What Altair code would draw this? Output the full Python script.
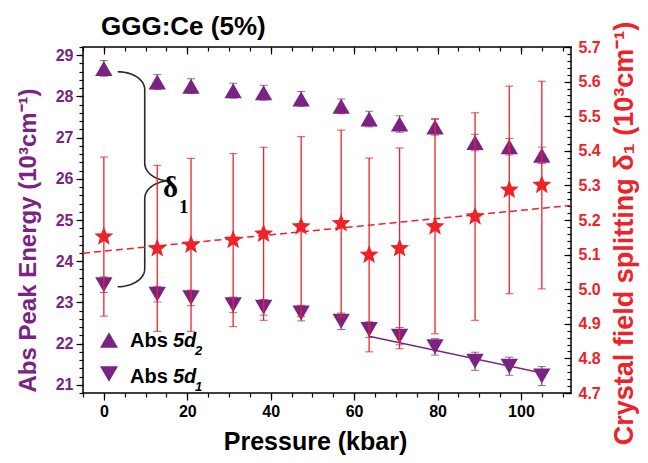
import math
import numpy as np
import pandas as pd
import altair as alt

# ---------------- data ----------------
pressure = [0, 12.8, 20.9, 31.0, 38.3, 47.3, 56.9, 63.6, 70.9, 79.4, 89.0, 97.2, 105.0]
abs_5d2 = [28.68, 28.35, 28.25, 28.14, 28.09, 27.94, 27.76, 27.45, 27.33, 27.26, 26.88, 26.78, 26.57]
abs_5d2_err = [0.19, 0.18, 0.18, 0.18, 0.18, 0.18, 0.18, 0.19, 0.2, 0.2, 0.2, 0.2, 0.2]
abs_5d1 = [23.43, 23.20, 23.11, 22.94, 22.88, 22.74, 22.54, 22.34, 22.18, 21.92, 21.57, 21.45, 21.21]
abs_5d1_err = [0.19, 0.19, 0.19, 0.19, 0.19, 0.19, 0.2, 0.19, 0.21, 0.2, 0.22, 0.22, 0.23]
splitting = [5.152, 5.118, 5.128, 5.142, 5.160, 5.181, 5.190, 5.099, 5.118, 5.181, 5.210, 5.287, 5.301]
splitting_err = [0.23, 0.24, 0.25, 0.25, 0.25, 0.26, 0.27, 0.28, 0.29, 0.31, 0.30, 0.30, 0.30]

# linear fits shown in the figure
split_fit_intercept = 5.110
split_fit_slope = 0.00118
d1_fit_intercept = 23.55
d1_fit_slope = -0.02155
d1_fit_range = [63.6, 105.0]

# brace annotation (data units of the left axis)
brace_x_end, brace_x_mid, brace_x_tip = 3.3, 9.8, 15.8
brace_y_top, brace_y_tip, brace_y_bot = 28.6, 25.95, 23.38
brace_ry = 0.43

# ---------------- style ----------------
PURPLE = "#7B2382"
RED = "#EE2229"
FONT = "Liberation Sans"
X_DOM = [-5, 112]
YL_DOM = [20.8, 29.2]
YR_DOM = [4.7, 5.7]

df = pd.DataFrame({
    "p": pressure,
    "d2": abs_5d2, "d2lo": np.array(abs_5d2) - np.array(abs_5d2_err), "d2hi": np.array(abs_5d2) + np.array(abs_5d2_err),
    "d1": abs_5d1, "d1lo": np.array(abs_5d1) - np.array(abs_5d1_err), "d1hi": np.array(abs_5d1) + np.array(abs_5d1_err),
    "s": splitting, "slo": np.array(splitting) - np.array(splitting_err), "shi": np.array(splitting) + np.array(splitting_err),
})

fit_s = pd.DataFrame({"fx": X_DOM})
fit_s["fy"] = split_fit_intercept + split_fit_slope * fit_s["fx"]
fit_d1 = pd.DataFrame({"fx": d1_fit_range})
fit_d1["fy"] = d1_fit_intercept + d1_fit_slope * fit_d1["fx"]


def brace_points():
    pts = []
    rx1 = brace_x_mid - brace_x_end
    rx2 = brace_x_tip - brace_x_mid
    ry = brace_ry
    ts = np.linspace(0, np.pi / 2, 14)
    for t in ts:
        pts.append((brace_x_end + rx1 * np.sin(t), brace_y_top - ry + ry * np.cos(t)))
    for t in ts:
        pts.append((brace_x_mid + rx2 - rx2 * np.cos(t), brace_y_tip + ry - ry * np.sin(t)))
    for t in ts:
        pts.append((brace_x_mid + rx2 - rx2 * np.sin(t), brace_y_tip - ry + ry * np.cos(t)))
    for t in ts:
        pts.append((brace_x_end + rx1 * np.cos(t), brace_y_bot + ry - ry * np.sin(t)))
    return pd.DataFrame({"bx": [p[0] for p in pts], "by": [p[1] for p in pts], "i": range(len(pts))})


brace_df = brace_points()


def star_path(inner=0.43):
    pts = []
    for k in range(10):
        a = math.radians(-90 + 36 * k)
        r = 1.0 if k % 2 == 0 else inner
        pts.append(f"{r * math.cos(a):.4f},{r * math.sin(a):.4f}")
    return "M" + "L".join(pts) + "Z"


STAR = star_path()

xs = alt.Scale(domain=X_DOM, nice=False, zero=False)
yls = alt.Scale(domain=YL_DOM, nice=False, zero=False)
yrs = alt.Scale(domain=YR_DOM, nice=False, zero=False)


def ax(**kw):
    base = dict(grid=False, domain=False, tickColor="black", tickWidth=1.2,
                labelFont=FONT, labelFontWeight="bold", labelFontSize=16,
                titleFont=FONT, titleFontWeight="bold", labelOverlap=False)
    base.update(kw)
    return alt.Axis(**base)


major_x = [0, 20, 40, 60, 80, 100]
minor_x = list(range(-5, 115, 5))
major_yl = list(range(21, 30))
minor_yl = [round(v, 2) for v in np.arange(20.8, 29.21, 0.2)]
major_yr = [round(4.7 + 0.1 * i, 1) for i in range(11)]
minor_yr = [round(v, 2) for v in np.arange(4.70, 5.701, 0.02)]

# ---------------- layer A : left axis (absorption energies) ----------------
x_bottom = ax(orient="bottom", values=major_x, tickSize=7, labelPadding=3, labelColor="black",
              title="Pressure (kbar)", titleFontSize=25, titleColor="black",
              titleX=232, titleY=56, titleBaseline="alphabetic")
y_left = ax(orient="left", values=major_yl, tickSize=7, labelPadding=3, labelColor=PURPLE,
            title="Abs Peak Energy (10³cm⁻¹)", titleFontSize=24, titleColor=PURPLE,
            titleAngle=270, titleX=-48, titleY=193, titleBaseline="alphabetic")


def XA(f):
    return alt.X(f"{f}:Q", scale=xs, axis=x_bottom)


def YA(f):
    return alt.Y(f"{f}:Q", scale=yls, axis=y_left)


baseA = alt.Chart(df)
errA2 = baseA.mark_rule(color=PURPLE, strokeWidth=1).encode(x=XA("p"), y=YA("d2lo"), y2="d2hi:Q")
errA1 = baseA.mark_rule(color=PURPLE, strokeWidth=1).encode(x=XA("p"), y=YA("d1lo"), y2="d1hi:Q")
caps = [baseA.mark_tick(color=PURPLE, orient="horizontal", size=8, thickness=1).encode(x=XA("p"), y=YA(f))
        for f in ["d2lo", "d2hi", "d1lo", "d1hi"]]
tri_up = baseA.mark_point(shape="triangle-up", filled=True, size=300, color=PURPLE, opacity=1).encode(
    x=XA("p"), y=YA("d2"))
tri_dn = baseA.mark_point(shape="triangle-down", filled=True, size=300, color=PURPLE, opacity=1).encode(
    x=XA("p"), y=YA("d1"))
fitA = alt.Chart(fit_d1).mark_line(color=PURPLE, strokeWidth=1.5).encode(x=XA("fx"), y=YA("fy"))
braceA = alt.Chart(brace_df).mark_line(color="#2a2a2a", strokeWidth=1.6).encode(
    x=XA("bx"), y=YA("by"), order="i:Q")

one = pd.DataFrame({"k": [0]})


def txt(text, x, y, size, style="normal", weight="bold", color="black", font=FONT):
    return alt.Chart(one).mark_text(text=text, font=font, fontSize=size, fontStyle=style,
                                    fontWeight=weight, color=color, align="left",
                                    baseline="alphabetic").encode(x=alt.value(x), y=alt.value(y))


def sym(shape, x, y):
    return alt.Chart(one).mark_point(shape=shape, filled=True, size=324, color=PURPLE, opacity=1).encode(
        x=alt.value(x), y=alt.value(y))


legend = [
    sym("triangle-up", 26, 293), txt("Abs", 47, 300, 20), txt("5d", 90, 300, 20, "italic"),
    txt("2", 112, 308, 13, "italic"),
    sym("triangle-down", 26, 327), txt("Abs", 47, 336, 20), txt("5d", 90, 336, 20, "italic"),
    txt("1", 112, 344, 13, "italic"),
]
delta = [txt("δ", 80, 150, 29, font="Liberation Serif"), txt("1", 96, 166, 19, font="Liberation Serif")]
title = [txt("GGG:Ce (5%)", 18, -12, 26)]

layerA = alt.layer(errA2, errA1, *caps, tri_up, tri_dn, fitA, braceA, *legend, *delta, *title)

# ---------------- layer B : right axis (crystal field splitting) ----------------
x_top = ax(orient="top", values=major_x, tickSize=7, offset=-7, labels=False, title=None)
y_right = ax(orient="right", values=major_yr, format=".1f", tickSize=7, offset=-7, labelPadding=7,
             labelColor=RED, title="Crystal field splitting δ₁ (10³cm⁻¹)", titleFontSize=27,
             titleColor=RED, titleAngle=270, titleX=68, titleY=186, titleBaseline="alphabetic")


def XB(f):
    return alt.X(f"{f}:Q", scale=xs, axis=x_top)


def YB(f):
    return alt.Y(f"{f}:Q", scale=yrs, axis=y_right)


baseB = alt.Chart(df)
errB = baseB.mark_rule(color=RED, strokeWidth=1.3).encode(x=XB("p"), y=YB("slo"), y2="shi:Q")
capsB = [baseB.mark_tick(color=RED, orient="horizontal", size=8, thickness=1.2).encode(x=XB("p"), y=YB(f))
         for f in ["slo", "shi"]]
fitB = alt.Chart(fit_s).mark_line(color=RED, strokeWidth=1.5, strokeDash=[7, 4]).encode(x=XB("fx"), y=YB("fy"))
stars = baseB.mark_point(shape=STAR, filled=True, size=400, color=RED, opacity=1).encode(x=XB("p"), y=YB("s"))
layerB = alt.layer(errB, *capsB, fitB, stars)

# ---------------- invisible layers for minor ticks ----------------
layerC = alt.Chart(df).mark_point(opacity=0).encode(
    x=alt.X("p:Q", scale=xs, axis=ax(orient="bottom", values=minor_x, tickSize=4, labels=False, title=None)),
    y=alt.Y("d2:Q", scale=yls, axis=ax(orient="left", values=minor_yl, tickSize=4, labels=False, title=None)))
layerD = alt.Chart(df).mark_point(opacity=0).encode(
    x=alt.X("p:Q", scale=xs, axis=ax(orient="top", values=minor_x, tickSize=4, offset=-4, labels=False, title=None)),
    y=alt.Y("s:Q", scale=yrs, axis=ax(orient="right", values=minor_yr, tickSize=4, offset=-4, labels=False, title=None)))

chart = alt.layer(layerA, layerB, layerC, layerD).resolve_scale(
    x="independent", y="independent"
).properties(
    width=488, height=346,
    autosize=alt.AutoSizeParams(type="none"),
    padding={"left": 75, "top": 39, "right": 69, "bottom": 62},
).configure_view(stroke="black", strokeWidth=1.5)

chart.save("out.html", embed_options={"renderer": "svg", "actions": False})
